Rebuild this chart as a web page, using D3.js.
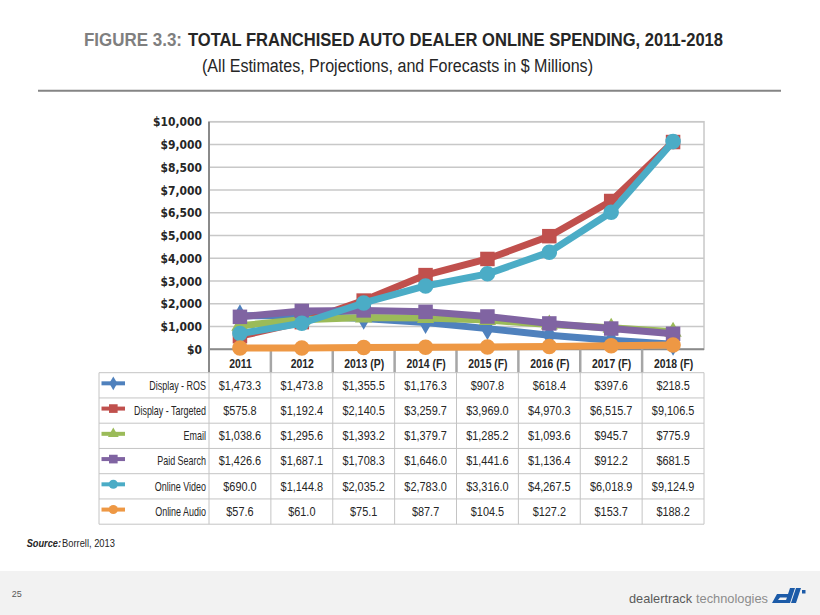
<!DOCTYPE html>
<html>
<head>
<meta charset="utf-8">
<script src="https://cdn.jsdelivr.net/npm/d3@7"></script>
<style>
  body { margin: 0; background: #fff; }
  svg { display: block; }
</style>
</head>
<body>
<div id="chart"></div>
<script>
const years = ['2011', '2012', '2013 (P)', '2014 (F)', '2015 (F)', '2016 (F)', '2017 (F)', '2018 (F)'];
const seriesNames = ['Display - ROS', 'Display - Targeted', 'Email', 'Paid Search', 'Online Video', 'Online Audio'];
const displayROS = [1473.3, 1473.8, 1355.5, 1176.3, 907.8, 618.4, 397.6, 218.5];
const displayTargeted = [575.8, 1192.4, 2140.5, 3259.7, 3969.0, 4970.3, 6515.7, 9106.5];
const email = [1038.6, 1295.6, 1393.2, 1379.7, 1285.2, 1093.6, 945.7, 775.9];
const paidSearch = [1426.6, 1687.1, 1708.3, 1646.0, 1441.6, 1136.4, 912.2, 681.5];
const onlineVideo = [690.0, 1144.8, 2035.2, 2783.0, 3316.0, 4267.5, 6018.9, 9124.9];
const onlineAudio = [57.6, 61.0, 75.1, 87.7, 104.5, 127.2, 153.7, 188.2];
const yTickValues = [0, 1000, 2000, 3000, 4000, 5000, 6000, 7000, 8000, 9000, 10000];
const yTickLabels = ['$0', '$1,000', '$2,000', '$3,000', '$4,000', '$5,000', '$6,500', '$7,000', '$8,500', '$9,000', '$10,000'];

const seriesValues = [displayROS, displayTargeted, email, paidSearch, onlineVideo, onlineAudio];
const colors = ['#4F81BD', '#C0504D', '#9BBB59', '#8064A2', '#4BACC6', '#EE9844'];
const shapes = [d3.symbolDiamond, d3.symbolSquare, d3.symbolTriangle, d3.symbolSquare, d3.symbolCircle, d3.symbolCircle];
const markerSize = [150, 210, 130, 210, 190, 190];
const keySize = [55, 75, 50, 75, 65, 65];

const W = 820, H = 615;
const plot = {left: 209, right: 704, top: 121.7, bottom: 349.3};
const table = {left: 99, top: 372.7, rowH: 25.25};
const sans = '"Liberation Sans", Arial, sans-serif';

const fmt = d3.format(',.1f');

// no condensed font here, so squeeze the glyphs horizontally instead
// (scale about the text's own anchor point)
function squeeze(sel, f) {
    sel.each(function() {
        const t = d3.select(this);
        const x0 = +t.attr('x') || 0;
        const y0 = +t.attr('y') || 0;
        t.attr('x', 0)
            .attr('y', 0)
            .attr('transform', `translate(${x0},${y0}) scale(${f},1)`);
    });
}

const svg = d3.select('#chart').append('svg')
    .attr('width', W)
    .attr('height', H);

// title block
svg.append('text')
    .text('FIGURE 3.3:')
    .attr('x', 84)
    .attr('y', 46)
    .attr('textLength', 98)
    .attr('lengthAdjust', 'spacingAndGlyphs')
    .style('font-family', sans)
    .style('font-weight', 'bold')
    .style('font-size', '19px')
    .style('fill', '#7f7f7f');
svg.append('text')
    .text('TOTAL FRANCHISED AUTO DEALER ONLINE SPENDING, 2011-2018')
    .attr('x', 188)
    .attr('y', 46)
    .attr('textLength', 535)
    .attr('lengthAdjust', 'spacingAndGlyphs')
    .style('font-family', sans)
    .style('font-weight', 'bold')
    .style('font-size', '19px')
    .style('fill', '#262626');

svg.append('text')
    .text('(All Estimates, Projections, and Forecasts  in $ Millions)')
    .attr('x', 202)
    .attr('y', 71.5)
    .attr('textLength', 391)
    .attr('lengthAdjust', 'spacingAndGlyphs')
    .style('font-family', sans)
    .style('font-size', '18px')
    .style('fill', '#262626');

svg.append('line')
    .attr('x1', 38).attr('x2', 781)
    .attr('y1', 90.7).attr('y2', 90.7)
    .style('stroke', '#858585')
    .style('stroke-width', 2);

// scales
const x = d3.scalePoint()
    .domain(years)
    .range([plot.left, plot.right])
    .padding(0.5);
const step = x.step();
const y = d3.scaleLinear()
    .domain([0, 10000])
    .range([plot.bottom, plot.top]);

// plot frame + gridlines
svg.append('rect')
    .attr('x', plot.left).attr('y', plot.top)
    .attr('width', plot.right - plot.left)
    .attr('height', plot.bottom - plot.top)
    .style('fill', 'none')
    .style('stroke', '#c8c8c8')
    .style('stroke-width', 1.5);

svg.append('g')
    .selectAll('line')
    .data(yTickValues.slice(1))
    .enter()
    .append('line')
    .attr('x1', plot.left).attr('x2', plot.right)
    .attr('y1', d => y(d)).attr('y2', d => y(d))
    .style('stroke', '#c8c8c8')
    .style('stroke-width', 1.5);

// y axis
const yAxis = d3.axisLeft(y)
    .tickValues(yTickValues)
    .tickFormat((d, i) => yTickLabels[i])
    .tickSize(0)
    .tickPadding(7);
const yG = svg.append('g')
    .attr('transform', `translate(${plot.left},0)`)
    .call(yAxis);
yG.select('.domain').remove();
yG.selectAll('text')
    .style('font-family', '"DejaVu Sans Condensed", sans-serif')
    .style('font-weight', 'bold')
    .style('font-size', '13px')
    .style('fill', '#262626')
    .call(squeeze, 0.92);

// axis lines (left one runs down through the header row)
svg.append('line')
    .attr('x1', plot.left).attr('x2', plot.left)
    .attr('y1', plot.top).attr('y2', table.top)
    .style('stroke', '#8a8a8a').style('stroke-width', 2);
svg.append('line')
    .attr('x1', plot.left).attr('x2', plot.right)
    .attr('y1', plot.bottom).attr('y2', plot.bottom)
    .style('stroke', '#8a8a8a').style('stroke-width', 2);

// category header separators
svg.append('g')
    .selectAll('line')
    .data(years.slice(1))
    .enter()
    .append('line')
    .attr('x1', d => x(d) - step / 2).attr('x2', d => x(d) - step / 2)
    .attr('y1', plot.bottom).attr('y2', table.top)
    .style('stroke', '#a6a6a6')
    .style('stroke-width', 2.5);

const xAxis = d3.axisBottom(x).tickSize(0).tickPadding(0);
const xG = svg.append('g')
    .attr('transform', `translate(0,${plot.bottom})`)
    .call(xAxis);
xG.select('.domain').remove();
xG.selectAll('text')
    .attr('dy', 0)
    .attr('y', 19)
    .style('font-family', sans)
    .style('font-weight', 'bold')
    .style('font-size', '13px')
    .style('fill', '#262626')
    .call(squeeze, 0.8);

// series lines + markers
const line = d3.line()
    .x((d, i) => x(years[i]))
    .y(d => y(d));

seriesValues.forEach((vals, s) => {
    const g = svg.append('g').attr('class', 'series');
    g.append('path')
        .datum(vals)
        .attr('d', line)
        .style('fill', 'none')
        .style('stroke', colors[s])
        .style('stroke-width', 7)
        .style('stroke-linejoin', 'round');
    g.selectAll('.marker')
        .data(vals)
        .enter()
        .append('path')
        .attr('class', 'marker')
        .attr('d', d3.symbol().type(shapes[s]).size(markerSize[s]))
        .attr('transform', (d, i) => `translate(${x(years[i])},${y(d)})`)
        .style('fill', colors[s]);
});

// data table
const tableBottom = table.top + table.rowH * seriesNames.length;
const grid = svg.append('g').attr('class', 'grid');
grid.selectAll('.hrow')
    .data(d3.range(seriesNames.length + 1))
    .enter()
    .append('line')
    .attr('x1', table.left).attr('x2', plot.right)
    .attr('y1', i => table.top + i * table.rowH)
    .attr('y2', i => table.top + i * table.rowH)
    .style('stroke', '#c4c4c4');
const colEdges = [table.left, plot.left].concat(years.map(d => x(d) + step / 2));
grid.selectAll('.vcol')
    .data(colEdges)
    .enter()
    .append('line')
    .attr('x1', d => d).attr('x2', d => d)
    .attr('y1', table.top).attr('y2', tableBottom)
    .style('stroke', '#c4c4c4');

seriesNames.forEach((name, s) => {
    const ry = table.top + s * table.rowH;
    const cy = ry + table.rowH / 2;
    // legend key
    svg.append('line')
        .attr('x1', 101.5).attr('x2', 125)
        .attr('y1', cy - 2).attr('y2', cy - 2)
        .style('stroke', colors[s])
        .style('stroke-width', 4);
    svg.append('path')
        .attr('d', d3.symbol().type(shapes[s]).size(keySize[s]))
        .attr('transform', `translate(113.3,${cy - 2})`)
        .style('fill', colors[s]);
    svg.append('text')
        .text(name)
        .attr('x', 206)
        .attr('y', ry + 17)
        .attr('text-anchor', 'end')
        .style('font-family', sans)
        .style('font-size', '13px')
        .style('fill', '#262626')
        .call(squeeze, 0.69);
    svg.selectAll(null)
        .data(seriesValues[s])
        .enter()
        .append('text')
        .text(d => '$' + fmt(d))
        .attr('x', (d, i) => x(years[i]))
        .attr('y', ry + 17)
        .attr('text-anchor', 'middle')
        .style('font-family', sans)
        .style('font-size', '13px')
        .style('fill', '#262626')
        .call(squeeze, 0.84);
});

// source
svg.append('text')
    .text('Source:')
    .attr('x', 26.7)
    .attr('y', 547.3)
    .style('font-family', sans)
    .style('font-size', '11px')
    .style('font-style', 'italic')
    .style('font-weight', 'bold')
    .style('fill', '#262626')
    .call(squeeze, 0.84);
svg.append('text')
    .text('Borrell, 2013')
    .attr('x', 62)
    .attr('y', 547.3)
    .style('font-family', sans)
    .style('font-size', '11px')
    .style('fill', '#262626')
    .call(squeeze, 0.85);

// footer band
svg.append('rect')
    .attr('x', 0).attr('y', 571)
    .attr('width', W).attr('height', H - 571)
    .style('fill', '#f2f2f2');
svg.append('text')
    .text('25')
    .attr('x', 11.7)
    .attr('y', 596.7)
    .style('font-family', sans)
    .style('font-size', '9px')
    .style('fill', '#595959');

svg.append('text')
    .text('dealertrack')
    .attr('x', 629)
    .attr('y', 602.7)
    .attr('textLength', 63)
    .attr('lengthAdjust', 'spacingAndGlyphs')
    .style('font-family', sans)
    .style('font-size', '13px')
    .style('fill', '#5a5a5a');
svg.append('text')
    .text('technologies')
    .attr('x', 696)
    .attr('y', 602.7)
    .attr('textLength', 72)
    .attr('lengthAdjust', 'spacingAndGlyphs')
    .style('font-family', sans)
    .style('font-size', '13px')
    .style('fill', '#8c8c8c');

// dt mark, rough shape
const mark = svg.append('g')
    .attr('transform', 'translate(772,588)')
    .style('fill', '#1c5ba8');
mark.append('path').attr('d', 'M5,6 L16,6 L18,0 L23,0 L18,15 L0,15 Z M8,9.5 L6,12 L14,12 L15,9.5 Z')
    .style('fill-rule', 'evenodd');
mark.append('path').attr('d', 'M24,0 L29,0 L24,15 L19,15 Z');
mark.append('rect').attr('x', 30).attr('y', 2).attr('width', 3.5).attr('height', 3.5);
</script>
</body>
</html>
